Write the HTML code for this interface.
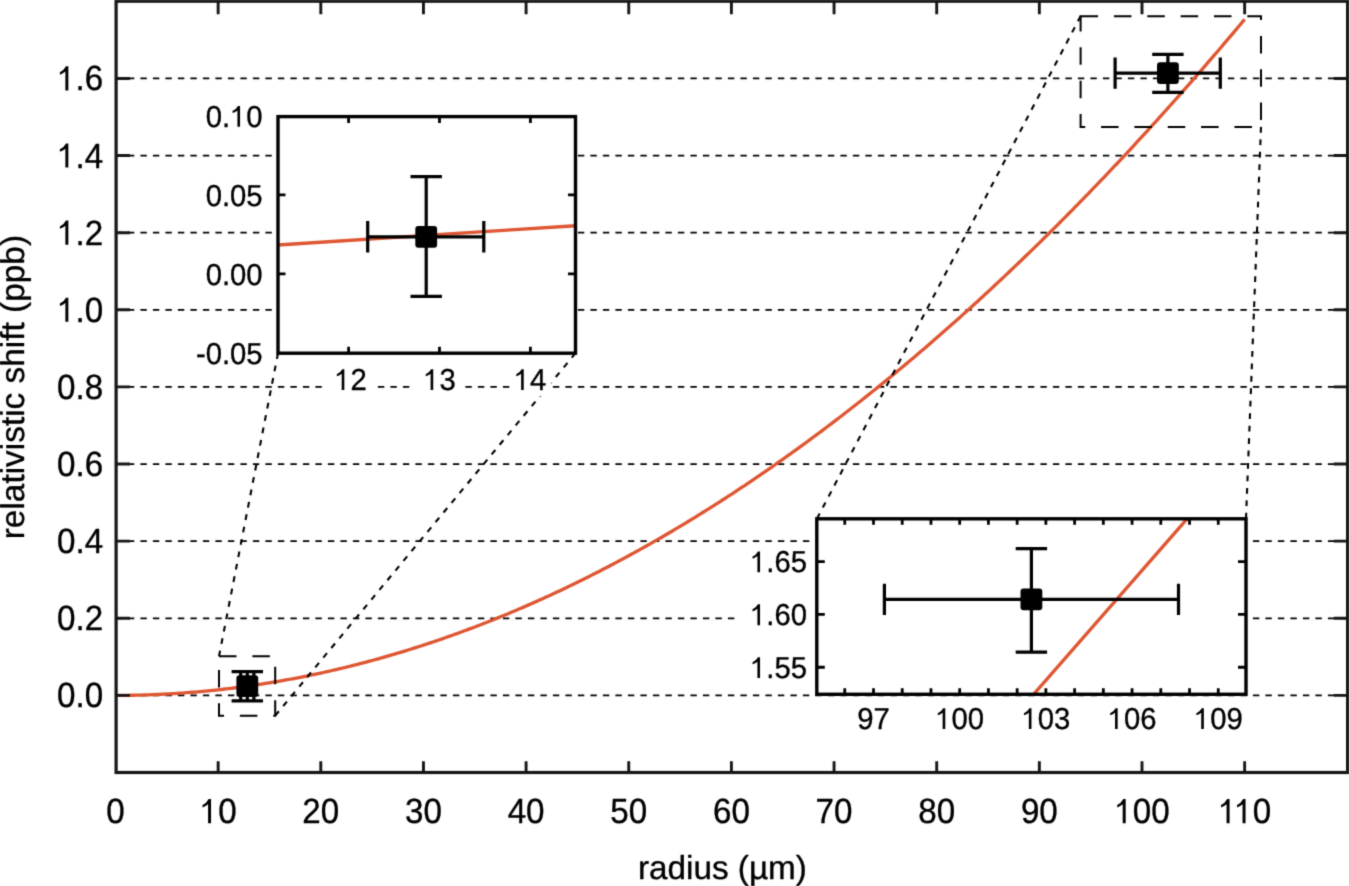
<!DOCTYPE html>
<html><head><meta charset="utf-8"><title>relativistic shift vs radius</title>
<style>
html,body{margin:0;padding:0;background:#fff;width:1349px;height:886px;overflow:hidden}
svg{display:block;font-family:"Liberation Sans",sans-serif;fill:#000}
text{stroke:#000;stroke-width:0.35px}
svg{will-change:transform}
</style></head><body>
<svg width="1349" height="886" viewBox="0 0 1349 886" text-rendering="geometricPrecision">
<defs><filter id="soft" filterUnits="userSpaceOnUse" x="-10" y="-10" width="1369" height="906" color-interpolation-filters="sRGB"><feConvolveMatrix order="3" kernelMatrix="0.0225 0.105 0.0225 0.105 0.49 0.105 0.0225 0.105 0.0225" edgeMode="duplicate" preserveAlpha="true"/></filter></defs>
<g filter="url(#soft)">
<rect x="-10" y="-10" width="1369" height="906" fill="#fff"/>
<line x1="115.4" y1="695.4" x2="1345.6" y2="695.4" stroke="#000" stroke-width="1.8" stroke-dasharray="6.4 6.1"/>
<line x1="115.4" y1="618.28" x2="1345.6" y2="618.28" stroke="#000" stroke-width="1.8" stroke-dasharray="6.4 6.1"/>
<line x1="115.4" y1="541.16" x2="1345.6" y2="541.16" stroke="#000" stroke-width="1.8" stroke-dasharray="6.4 6.1"/>
<line x1="115.4" y1="464.04" x2="1345.6" y2="464.04" stroke="#000" stroke-width="1.8" stroke-dasharray="6.4 6.1"/>
<line x1="115.4" y1="386.92" x2="1345.6" y2="386.92" stroke="#000" stroke-width="1.8" stroke-dasharray="6.4 6.1"/>
<line x1="115.4" y1="309.8" x2="1345.6" y2="309.8" stroke="#000" stroke-width="1.8" stroke-dasharray="6.4 6.1"/>
<line x1="115.4" y1="232.68" x2="1345.6" y2="232.68" stroke="#000" stroke-width="1.8" stroke-dasharray="6.4 6.1"/>
<line x1="115.4" y1="155.56" x2="1345.6" y2="155.56" stroke="#000" stroke-width="1.8" stroke-dasharray="6.4 6.1"/>
<line x1="115.4" y1="78.44" x2="1345.6" y2="78.44" stroke="#000" stroke-width="1.8" stroke-dasharray="6.4 6.1"/>
<polyline points="115.5,695.4 118.07,695.4 120.63,695.39 123.2,695.37 125.77,695.34 128.33,695.31 130.9,695.27 133.46,695.23 136.03,695.18 138.6,695.12 141.16,695.05 143.73,694.98 146.3,694.9 148.86,694.81 151.43,694.72 153.99,694.61 156.56,694.51 159.13,694.39 161.69,694.27 164.26,694.14 166.82,694 169.39,693.86 171.96,693.71 174.52,693.55 177.09,693.39 179.66,693.22 182.22,693.04 184.79,692.85 187.36,692.66 189.92,692.46 192.49,692.26 195.05,692.04 197.62,691.82 200.19,691.6 202.75,691.36 205.32,691.12 207.88,690.87 210.45,690.62 213.02,690.36 215.58,690.09 218.15,689.81 220.72,689.53 223.28,689.24 225.85,688.94 228.42,688.64 230.98,688.33 233.55,688.01 236.11,687.69 238.68,687.35 241.25,687.02 243.81,686.67 246.38,686.32 248.94,685.96 251.51,685.59 254.08,685.22 256.64,684.84 259.21,684.45 261.78,684.05 264.34,683.65 266.91,683.24 269.48,682.83 272.04,682.41 274.61,681.98 277.17,681.54 279.74,681.1 282.31,680.65 284.87,680.19 287.44,679.72 290,679.25 292.57,678.77 295.14,678.29 297.7,677.8 300.27,677.3 302.84,676.79 305.4,676.28 307.97,675.76 310.54,675.23 313.1,674.7 315.67,674.15 318.23,673.61 320.8,673.05 323.37,672.49 325.93,671.92 328.5,671.34 331.06,670.76 333.63,670.17 336.2,669.57 338.76,668.97 341.33,668.36 343.9,667.74 346.46,667.11 349.03,666.48 351.6,665.84 354.16,665.2 356.73,664.54 359.29,663.88 361.86,663.22 364.43,662.54 366.99,661.86 369.56,661.17 372.12,660.48 374.69,659.78 377.26,659.07 379.82,658.35 382.39,657.63 384.96,656.9 387.52,656.16 390.09,655.42 392.66,654.67 395.22,653.91 397.79,653.15 400.35,652.37 402.92,651.6 405.49,650.81 408.05,650.02 410.62,649.22 413.19,648.41 415.75,647.6 418.32,646.78 420.88,645.95 423.45,645.11 426.02,644.27 428.58,643.42 431.15,642.57 433.72,641.71 436.28,640.84 438.85,639.96 441.41,639.08 443.98,638.19 446.55,637.29 449.11,636.38 451.68,635.47 454.25,634.55 456.81,633.63 459.38,632.7 461.94,631.76 464.51,630.81 467.08,629.86 469.64,628.9 472.21,627.93 474.78,626.96 477.34,625.97 479.91,624.99 482.47,623.99 485.04,622.99 487.61,621.98 490.17,620.96 492.74,619.94 495.31,618.91 497.87,617.87 500.44,616.83 503,615.78 505.57,614.72 508.14,613.65 510.7,612.58 513.27,611.5 515.84,610.42 518.4,609.32 520.97,608.22 523.53,607.12 526.1,606 528.67,604.88 531.23,603.75 533.8,602.62 536.37,601.48 538.93,600.33 541.5,599.17 544.06,598.01 546.63,596.84 549.2,595.66 551.76,594.48 554.33,593.29 556.89,592.09 559.46,590.89 562.03,589.67 564.59,588.45 567.16,587.23 569.73,586 572.29,584.76 574.86,583.51 577.42,582.26 579.99,581 582.56,579.73 585.12,578.45 587.69,577.17 590.26,575.88 592.82,574.59 595.39,573.29 597.96,571.98 600.52,570.66 603.09,569.34 605.65,568.01 608.22,566.67 610.79,565.32 613.35,563.97 615.92,562.61 618.49,561.25 621.05,559.88 623.62,558.5 626.18,557.11 628.75,555.72 631.32,554.32 633.88,552.91 636.45,551.49 639.01,550.07 641.58,548.64 644.15,547.21 646.71,545.77 649.28,544.32 651.85,542.86 654.41,541.4 656.98,539.93 659.55,538.45 662.11,536.97 664.68,535.48 667.24,533.98 669.81,532.47 672.38,530.96 674.94,529.44 677.51,527.92 680.08,526.38 682.64,524.84 685.21,523.3 687.77,521.74 690.34,520.18 692.91,518.61 695.47,517.04 698.04,515.46 700.61,513.87 703.17,512.27 705.74,510.67 708.3,509.06 710.87,507.44 713.44,505.82 716,504.19 718.57,502.55 721.13,500.9 723.7,499.25 726.27,497.59 728.83,495.93 731.4,494.26 733.97,492.58 736.53,490.89 739.1,489.2 741.67,487.49 744.23,485.79 746.8,484.07 749.36,482.35 751.93,480.62 754.5,478.89 757.06,477.14 759.63,475.39 762.2,473.64 764.76,471.87 767.33,470.1 769.89,468.33 772.46,466.54 775.03,464.75 777.59,462.95 780.16,461.15 782.73,459.33 785.29,457.52 787.86,455.69 790.42,453.86 792.99,452.02 795.56,450.17 798.12,448.31 800.69,446.45 803.25,444.58 805.82,442.71 808.39,440.83 810.95,438.94 813.52,437.04 816.09,435.14 818.65,433.23 821.22,431.31 823.79,429.39 826.35,427.46 828.92,425.52 831.48,423.57 834.05,421.62 836.62,419.66 839.18,417.7 841.75,415.72 844.32,413.74 846.88,411.75 849.45,409.76 852.01,407.76 854.58,405.75 857.15,403.74 859.71,401.72 862.28,399.69 864.85,397.65 867.41,395.61 869.98,393.56 872.54,391.5 875.11,389.44 877.68,387.37 880.24,385.29 882.81,383.2 885.38,381.11 887.94,379.01 890.51,376.91 893.07,374.79 895.64,372.68 898.21,370.55 900.77,368.41 903.34,366.27 905.91,364.13 908.47,361.97 911.04,359.81 913.6,357.64 916.17,355.47 918.74,353.28 921.3,351.09 923.87,348.9 926.44,346.69 929,344.48 931.57,342.27 934.13,340.04 936.7,337.81 939.27,335.57 941.83,333.33 944.4,331.07 946.97,328.81 949.53,326.55 952.1,324.27 954.66,321.99 957.23,319.71 959.8,317.41 962.36,315.11 964.93,312.8 967.5,310.49 970.06,308.17 972.63,305.84 975.19,303.5 977.76,301.16 980.33,298.81 982.89,296.45 985.46,294.09 988.03,291.71 990.59,289.34 993.16,286.95 995.72,284.56 998.29,282.16 1000.86,279.75 1003.42,277.34 1005.99,274.92 1008.56,272.49 1011.12,270.06 1013.69,267.62 1016.25,265.17 1018.82,262.72 1021.39,260.25 1023.95,257.79 1026.52,255.31 1029.09,252.83 1031.65,250.34 1034.22,247.84 1036.78,245.34 1039.35,242.83 1041.92,240.31 1044.48,237.78 1047.05,235.25 1049.62,232.71 1052.18,230.17 1054.75,227.61 1057.31,225.05 1059.88,222.49 1062.45,219.91 1065.01,217.33 1067.58,214.75 1070.14,212.15 1072.71,209.55 1075.28,206.94 1077.84,204.32 1080.41,201.7 1082.98,199.07 1085.54,196.44 1088.11,193.79 1090.68,191.14 1093.24,188.48 1095.81,185.82 1098.37,183.15 1100.94,180.47 1103.51,177.78 1106.07,175.09 1108.64,172.39 1111.2,169.69 1113.77,166.97 1116.34,164.25 1118.9,161.53 1121.47,158.79 1124.04,156.05 1126.6,153.3 1129.17,150.55 1131.74,147.78 1134.3,145.02 1136.87,142.24 1139.43,139.46 1142,136.67 1144.57,133.87 1147.13,131.06 1149.7,128.25 1152.27,125.44 1154.83,122.61 1157.4,119.78 1159.96,116.94 1162.53,114.09 1165.1,111.24 1167.66,108.38 1170.23,105.51 1172.8,102.64 1175.36,99.76 1177.93,96.87 1180.49,93.97 1183.06,91.07 1185.63,88.16 1188.19,85.25 1190.76,82.33 1193.33,79.4 1195.89,76.46 1198.46,73.51 1201.02,70.56 1203.59,67.61 1206.16,64.64 1208.72,61.67 1211.29,58.69 1213.86,55.7 1216.42,52.71 1218.99,49.71 1221.55,46.71 1224.12,43.69 1226.69,40.67 1229.25,37.64 1231.82,34.61 1234.38,31.57 1236.95,28.52 1239.52,25.46 1242.08,22.4 1244.65,19.33" fill="none" stroke="#de5632" stroke-width="3.3" stroke-linejoin="round"/>
<path d="M240.7 686.2H253.9 M247.3 671.6V700.9 M231.6 671.6H263 M231.6 700.9H263 M240.7 670.5V701.9 M253.9 670.5V701.9" stroke="#000" stroke-width="3.2" fill="none"/><rect x="236.4" y="675.3" width="21.8" height="21.8" rx="3" fill="#000"/>
<path d="M1115.1 73.1H1220.3 M1167.9 54.4V92.4 M1152.2 54.4H1183.6 M1152.2 92.4H1183.6 M1115.1 57.4V88.8 M1220.3 57.4V88.8" stroke="#000" stroke-width="3.2" fill="none"/><rect x="1157" y="62.2" width="21.8" height="21.8" rx="3" fill="#000"/>
<rect x="219" y="656.3" width="56.2" height="59.4" fill="none" stroke="#000" stroke-width="2" stroke-dasharray="17.5 15.85"/>
<rect x="1080.6" y="16.2" width="180.4" height="110.7" fill="none" stroke="#000" stroke-width="2" stroke-dasharray="17.5 15.85"/>
<line x1="278" y1="353.2" x2="219" y2="656.3" stroke="#000" stroke-width="2.1" stroke-dasharray="5.800 6.825"/>
<line x1="575.5" y1="353.2" x2="275.2" y2="715.7" stroke="#000" stroke-width="2.1" stroke-dasharray="5.800 6.766"/>
<line x1="1080.6" y1="16.2" x2="817" y2="518.6" stroke="#000" stroke-width="2.1" stroke-dasharray="5.800 6.679"/>
<line x1="1261" y1="126.9" x2="1246" y2="518.6" stroke="#000" stroke-width="2.1" stroke-dasharray="5.800 6.658"/>
<rect x="116.1" y="1.2" width="1231.5" height="771.3" fill="none" stroke="#161616" stroke-width="3.2"/>
<path d="M218.15 772.5V761.2M218.15 1.2V14.2M320.8 772.5V761.2M320.8 1.2V14.2M423.45 772.5V761.2M423.45 1.2V14.2M526.1 772.5V761.2M526.1 1.2V14.2M628.75 772.5V761.2M628.75 1.2V14.2M731.4 772.5V761.2M731.4 1.2V14.2M834.05 772.5V761.2M834.05 1.2V14.2M936.7 772.5V761.2M936.7 1.2V14.2M1039.35 772.5V761.2M1039.35 1.2V14.2M1142 772.5V761.2M1142 1.2V14.2M1244.65 772.5V761.2M1244.65 1.2V14.2M116.1 695.4H129.9M1347.6 695.4H1333.8M116.1 618.28H129.9M1347.6 618.28H1333.8M116.1 541.16H129.9M1347.6 541.16H1333.8M116.1 464.04H129.9M1347.6 464.04H1333.8M116.1 386.92H129.9M1347.6 386.92H1333.8M116.1 309.8H129.9M1347.6 309.8H1333.8M116.1 232.68H129.9M1347.6 232.68H1333.8M116.1 155.56H129.9M1347.6 155.56H1333.8M116.1 78.44H129.9M1347.6 78.44H1333.8" stroke="#161616" stroke-width="2.9" fill="none"/>
<text transform="translate(106.28 823.2) scale(0.947 1)" font-size="35.0">0</text>
<text transform="translate(199.72 823.2) scale(0.947 1)" font-size="35.0"><tspan style="fill:none;stroke:none">1</tspan>0</text><path transform="translate(199.716 823.2) scale(0.016184 -0.017090)" d="M700 0L517 0L517 1105Q380 1000 175 925L175 1070Q420 1160 555 1409L700 1409Z"/>
<text transform="translate(302.37 823.2) scale(0.947 1)" font-size="35.0">20</text>
<text transform="translate(405.02 823.2) scale(0.947 1)" font-size="35.0">30</text>
<text transform="translate(507.67 823.2) scale(0.947 1)" font-size="35.0">40</text>
<text transform="translate(610.32 823.2) scale(0.947 1)" font-size="35.0">50</text>
<text transform="translate(712.97 823.2) scale(0.947 1)" font-size="35.0">60</text>
<text transform="translate(815.62 823.2) scale(0.947 1)" font-size="35.0">70</text>
<text transform="translate(918.27 823.2) scale(0.947 1)" font-size="35.0">80</text>
<text transform="translate(1020.92 823.2) scale(0.947 1)" font-size="35.0">90</text>
<text transform="translate(1114.35 823.2) scale(0.947 1)" font-size="35.0"><tspan style="fill:none;stroke:none">1</tspan>00</text><path transform="translate(1114.349 823.2) scale(0.016184 -0.017090)" d="M700 0L517 0L517 1105Q380 1000 175 925L175 1070Q420 1160 555 1409L700 1409Z"/>
<text transform="translate(1218.23 823.2) scale(0.947 1)" font-size="35.0"><tspan style="fill:none;stroke:none">1</tspan><tspan style="fill:none;stroke:none">1</tspan>0</text><path transform="translate(1218.229 823.2) scale(0.016184 -0.017090)" d="M700 0L517 0L517 1105Q380 1000 175 925L175 1070Q420 1160 555 1409L700 1409Z"/><path transform="translate(1234.203 823.2) scale(0.016184 -0.017090)" d="M700 0L517 0L517 1105Q380 1000 175 925L175 1070Q420 1160 555 1409L700 1409Z"/>
<text transform="translate(57.02 707.4) scale(0.947 1)" font-size="35.0">0.0</text>
<text transform="translate(57.02 630.28) scale(0.947 1)" font-size="35.0">0.2</text>
<text transform="translate(57.02 553.16) scale(0.947 1)" font-size="35.0">0.4</text>
<text transform="translate(57.02 476.04) scale(0.947 1)" font-size="35.0">0.6</text>
<text transform="translate(57.02 398.92) scale(0.947 1)" font-size="35.0">0.8</text>
<text transform="translate(57.02 321.8) scale(0.947 1)" font-size="35.0"><tspan style="fill:none;stroke:none">1</tspan>.0</text><path transform="translate(57.024 321.8) scale(0.016184 -0.017090)" d="M700 0L517 0L517 1105Q380 1000 175 925L175 1070Q420 1160 555 1409L700 1409Z"/>
<text transform="translate(57.02 244.68) scale(0.947 1)" font-size="35.0"><tspan style="fill:none;stroke:none">1</tspan>.2</text><path transform="translate(57.024 244.68) scale(0.016184 -0.017090)" d="M700 0L517 0L517 1105Q380 1000 175 925L175 1070Q420 1160 555 1409L700 1409Z"/>
<text transform="translate(57.02 167.56) scale(0.947 1)" font-size="35.0"><tspan style="fill:none;stroke:none">1</tspan>.4</text><path transform="translate(57.024 167.56) scale(0.016184 -0.017090)" d="M700 0L517 0L517 1105Q380 1000 175 925L175 1070Q420 1160 555 1409L700 1409Z"/>
<text transform="translate(57.02 90.44) scale(0.947 1)" font-size="35.0"><tspan style="fill:none;stroke:none">1</tspan>.6</text><path transform="translate(57.024 90.44) scale(0.016184 -0.017090)" d="M700 0L517 0L517 1105Q380 1000 175 925L175 1070Q420 1160 555 1409L700 1409Z"/>
<text x="637.9" y="879" font-size="33.3">radius (µm)</text>
<text transform="translate(24.2 539.3) rotate(-90)" font-size="33.4">relativistic shift (ppb)</text>
<rect x="278" y="116.6" width="297.5" height="236.6" fill="#fff"/>
<rect x="325.6" y="362" width="48" height="34" fill="#fff"/>
<rect x="414.5" y="362" width="47" height="34" fill="#fff"/>
<rect x="510.5" y="362" width="41" height="34" fill="#fff"/>
<line x1="278" y1="245.02" x2="575.5" y2="225.73" stroke="#de5632" stroke-width="3.3"/>
<path d="M367.7 236.8H483.8 M426.2 176.6V296.4 M410.5 176.6H441.9 M410.5 296.4H441.9 M367.7 221.1V252.5 M483.8 221.1V252.5" stroke="#000" stroke-width="3.2" fill="none"/><rect x="415.3" y="225.9" width="21.8" height="21.8" rx="3" fill="#000"/>
<rect x="278" y="116.6" width="297.5" height="236.6" fill="none" stroke="#000" stroke-width="3.4"/>
<path d="M348.6 353.2V346.7M348.6 116.6V123.1M439.5 353.2V346.7M439.5 116.6V123.1M530.4 353.2V346.7M530.4 116.6V123.1M278 194.9H285.5M575.5 194.9H568M278 273.8H285.5M575.5 273.8H568" stroke="#000" stroke-width="2.8" fill="none"/>
<text transform="translate(334.32 390) scale(0.966 1)" font-size="30.3"><tspan style="fill:none;stroke:none">1</tspan>2</text><path transform="translate(334.322 390) scale(0.014292 -0.014795)" d="M700 0L517 0L517 1105Q380 1000 175 925L175 1070Q420 1160 555 1409L700 1409Z"/>
<text transform="translate(423.22 390) scale(0.966 1)" font-size="30.3"><tspan style="fill:none;stroke:none">1</tspan>3</text><path transform="translate(423.222 390) scale(0.014292 -0.014795)" d="M700 0L517 0L517 1105Q380 1000 175 925L175 1070Q420 1160 555 1409L700 1409Z"/>
<text transform="translate(513.72 390) scale(0.966 1)" font-size="30.3"><tspan style="fill:none;stroke:none">1</tspan>4</text><path transform="translate(513.722 390) scale(0.014292 -0.014795)" d="M700 0L517 0L517 1105Q380 1000 175 925L175 1070Q420 1160 555 1409L700 1409Z"/>
<text transform="translate(205.63 126.8) scale(0.966 1)" font-size="30.3">0.<tspan style="fill:none;stroke:none">1</tspan>0</text><path transform="translate(230.043 126.8) scale(0.014292 -0.014795)" d="M700 0L517 0L517 1105Q380 1000 175 925L175 1070Q420 1160 555 1409L700 1409Z"/>
<text transform="translate(205.63 205.7) scale(0.966 1)" font-size="30.3">0.05</text>
<text transform="translate(205.63 284.6) scale(0.966 1)" font-size="30.3">0.00</text>
<text transform="translate(195.89 363.5) scale(0.966 1)" font-size="30.3">-0.05</text>
<rect x="816.8" y="518.8" width="429.2" height="175.5" fill="#fff"/>
<rect x="738" y="544.55" width="79" height="34" fill="#fff"/>
<rect x="738" y="597.4" width="79" height="34" fill="#fff"/>
<rect x="738" y="650.25" width="79" height="34" fill="#fff"/>
<line x1="1033.6" y1="694.3" x2="1187.1" y2="518.8" stroke="#de5632" stroke-width="3.3"/>
<path d="M884.4 599.4H1178.5 M1031.4 548.7V652.2 M1015.7 548.7H1047.1 M1015.7 652.2H1047.1 M884.4 583.7V615.1 M1178.5 583.7V615.1" stroke="#000" stroke-width="3.2" fill="none"/><rect x="1020.5" y="588.5" width="21.8" height="21.8" rx="3" fill="#000"/>
<rect x="816.8" y="518.8" width="429.2" height="175.5" fill="none" stroke="#000" stroke-width="3.4"/>
<path d="M844.77 694.3V688.3M844.77 518.8V524.8M873.5 694.3V688.3M873.5 518.8V524.8M902.23 694.3V688.3M902.23 518.8V524.8M930.96 694.3V688.3M930.96 518.8V524.8M959.69 694.3V688.3M959.69 518.8V524.8M988.42 694.3V688.3M988.42 518.8V524.8M1017.15 694.3V688.3M1017.15 518.8V524.8M1045.88 694.3V688.3M1045.88 518.8V524.8M1074.61 694.3V688.3M1074.61 518.8V524.8M1103.34 694.3V688.3M1103.34 518.8V524.8M1132.07 694.3V688.3M1132.07 518.8V524.8M1160.8 694.3V688.3M1160.8 518.8V524.8M1189.53 694.3V688.3M1189.53 518.8V524.8M1218.26 694.3V688.3M1218.26 518.8V524.8M816.8 561.55H824.8M1246 561.55H1238M816.8 614.4H824.8M1246 614.4H1238M816.8 667.25H824.8M1246 667.25H1238" stroke="#000" stroke-width="2.8" fill="none"/>
<text transform="translate(857.22 729) scale(0.966 1)" font-size="30.3">97</text>
<text transform="translate(935.27 729) scale(0.966 1)" font-size="30.3"><tspan style="fill:none;stroke:none">1</tspan>00</text><path transform="translate(935.272 729) scale(0.014292 -0.014795)" d="M700 0L517 0L517 1105Q380 1000 175 925L175 1070Q420 1160 555 1409L700 1409Z"/>
<text transform="translate(1021.46 729) scale(0.966 1)" font-size="30.3"><tspan style="fill:none;stroke:none">1</tspan>03</text><path transform="translate(1021.462 729) scale(0.014292 -0.014795)" d="M700 0L517 0L517 1105Q380 1000 175 925L175 1070Q420 1160 555 1409L700 1409Z"/>
<text transform="translate(1107.65 729) scale(0.966 1)" font-size="30.3"><tspan style="fill:none;stroke:none">1</tspan>06</text><path transform="translate(1107.652 729) scale(0.014292 -0.014795)" d="M700 0L517 0L517 1105Q380 1000 175 925L175 1070Q420 1160 555 1409L700 1409Z"/>
<text transform="translate(1193.84 729) scale(0.966 1)" font-size="30.3"><tspan style="fill:none;stroke:none">1</tspan>09</text><path transform="translate(1193.842 729) scale(0.014292 -0.014795)" d="M700 0L517 0L517 1105Q380 1000 175 925L175 1070Q420 1160 555 1409L700 1409Z"/>
<text transform="translate(750.03 572.35) scale(0.966 1)" font-size="30.3"><tspan style="fill:none;stroke:none">1</tspan>.65</text><path transform="translate(750.033 572.35) scale(0.014292 -0.014795)" d="M700 0L517 0L517 1105Q380 1000 175 925L175 1070Q420 1160 555 1409L700 1409Z"/>
<text transform="translate(750.03 625.2) scale(0.966 1)" font-size="30.3"><tspan style="fill:none;stroke:none">1</tspan>.60</text><path transform="translate(750.033 625.2) scale(0.014292 -0.014795)" d="M700 0L517 0L517 1105Q380 1000 175 925L175 1070Q420 1160 555 1409L700 1409Z"/>
<text transform="translate(750.03 678.05) scale(0.966 1)" font-size="30.3"><tspan style="fill:none;stroke:none">1</tspan>.55</text><path transform="translate(750.033 678.05) scale(0.014292 -0.014795)" d="M700 0L517 0L517 1105Q380 1000 175 925L175 1070Q420 1160 555 1409L700 1409Z"/>
</g>
</svg>
</body></html>
